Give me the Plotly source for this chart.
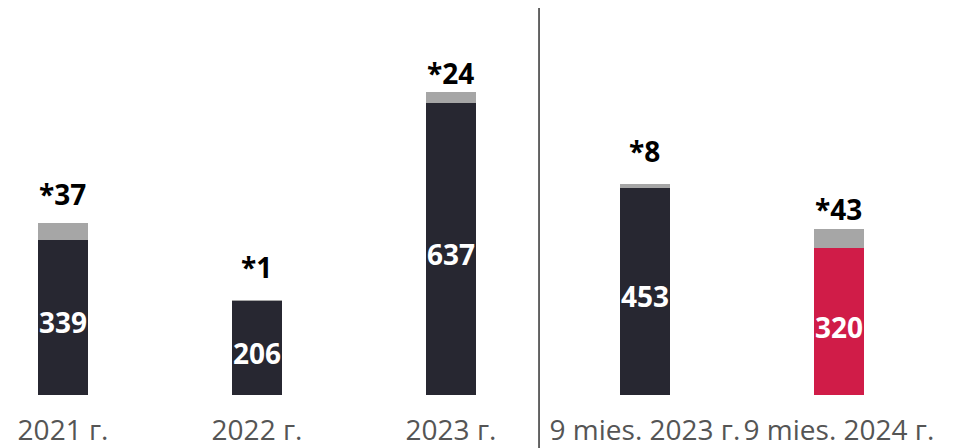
import plotly.graph_objects as go

categories = ["2021 г.", "2022 г.", "2023 г.", "9 mies. 2023 г.", "9 mies. 2024 г."]
main_values = [339, 206, 637, 453, 320]
extra_values = [37, 1, 24, 8, 43]
main_colors = ["#272731", "#272731", "#272731", "#272731", "#d01c48"]
extra_color = "#a6a6a6"
# vertical pixel offsets of the "*" labels above each bar (style)
top_label_shift = [8, 12, -2, 12, -1]

xs = list(range(len(categories)))
fig = go.Figure()
fig.add_trace(go.Bar(x=xs, y=main_values, marker=dict(color=main_colors, line=dict(width=0)),
                     width=0.26, hoverinfo="skip"))
fig.add_trace(go.Bar(x=xs, y=extra_values, marker=dict(color=extra_color, line=dict(width=0)),
                     width=0.26, hoverinfo="skip"))

# inside labels
for x, m in zip(xs, main_values):
    fig.add_annotation(x=x, y=m / 2, text=str(m), showarrow=False,
                       yanchor="middle", yshift=-5,
                       font=dict(family="Open Sans", size=28, color="white", weight="bold"))
# top labels
for x, m, e, s in zip(xs, main_values, extra_values, top_label_shift):
    fig.add_annotation(x=x, y=m + e, text="*" + str(e), showarrow=False,
                       yanchor="bottom", yshift=s,
                       font=dict(family="Open Sans", size=28, color="black", weight="bold"))

fig.add_shape(type="line", xref="x", yref="paper", x0=2.454, x1=2.454, y0=-0.2, y1=1.0,
              line=dict(color="#333333", width=1.5))

fig.update_layout(
    barmode="stack", width=951, height=440, showlegend=False,
    margin=dict(l=0, r=0, t=0, b=53),
    plot_bgcolor="white", paper_bgcolor="white",
    xaxis=dict(range=[-0.2835, 4.619], tickvals=xs, ticktext=categories, showgrid=False,
               zeroline=False, showline=False, ticks="", automargin=False,
               ticklabelstandoff=16,
               tickfont=dict(family="Open Sans", size=28, color="#555555")),
    yaxis=dict(range=[0, 845], visible=False, automargin=False),
)
fig.write_html("out.html")
